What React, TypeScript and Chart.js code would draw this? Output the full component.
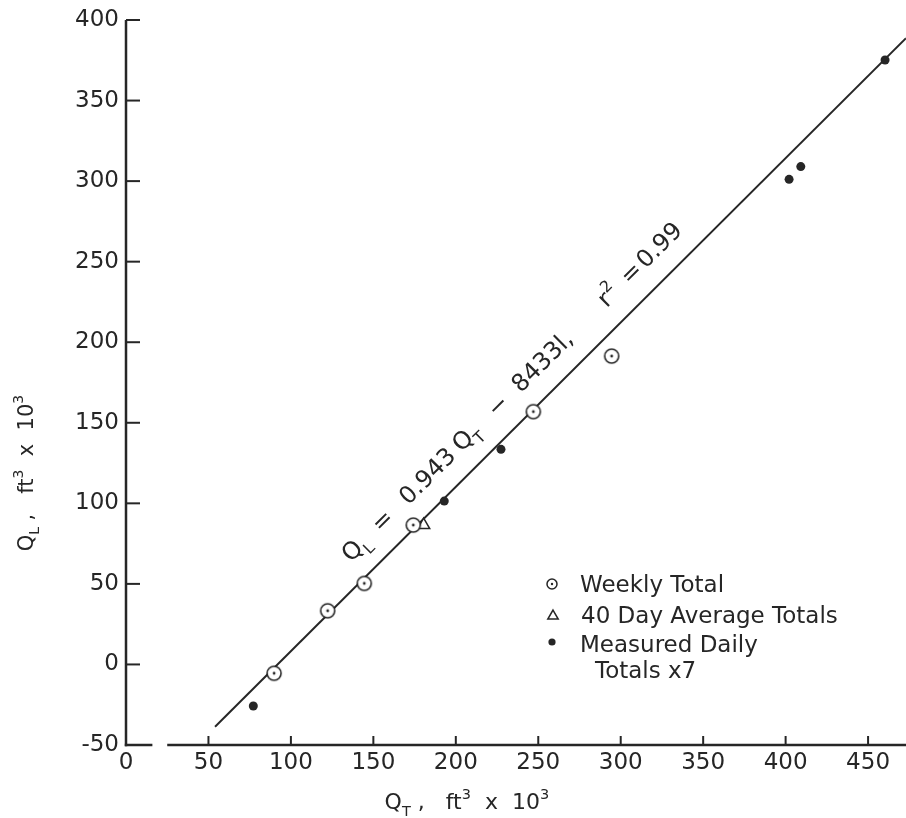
import React, { useEffect, useRef } from "react";
import { Chart, registerables } from "chart.js";

Chart.register(...registerables);

const INK = "#262626";
const FONT = "'DejaVu Sans', 'Liberation Sans', sans-serif";

// ---- data (thousand ft^3) ----
const weeklyX = [89.8, 122.3, 144.5, 174.2, 247.0, 294.5];
const weeklyY = [-5.5, 33.3, 50.3, 86.5, 156.9, 191.4];
const avgX = [180.5];
const avgY = [86.5];
const dailyX = [77.2, 193.0, 227.4, 402.1, 409.2, 460.3];
const dailyY = [-25.8, 101.4, 133.5, 301.1, 309.0, 375.2];
const fitX = [54, 473];
const fitY = [-38.7, 388.7];

const xTicks = [0, 50, 100, 150, 200, 250, 300, 350, 400, 450];
const yTicks = [-50, 0, 50, 100, 150, 200, 250, 300, 350, 400];
const xAxisBreak = [16, 25];

const seriesLabels = ["Weekly Total", "40 Day Average Totals", "Measured Daily", "Totals x7"];

type Part = { t: string; k?: "sub" | "sup"; at?: number };

const eqParts: Part[] = [
  { t: "Q", at: 0 },
  { t: "L", k: "sub" },
  { t: "=", at: 42 },
  { t: "0.943", at: 81 },
  { t: "Q", at: 156 },
  { t: "T", k: "sub" },
  { t: "\u2212", at: 205 },
  { t: "8433l,", at: 240 },
  { t: "r", at: 361 },
  { t: "2", k: "sup" },
  { t: "=", at: 393 },
  { t: "0.99", at: 416 },
];

const yTitleParts: Part[] = [
  { t: "Q" },
  { t: "L", k: "sub" },
  { t: " ,   ft" },
  { t: "3", k: "sup" },
  { t: "  x  10" },
  { t: "3", k: "sup" },
];
const xTitleParts: Part[] = [
  { t: "Q" },
  { t: "T", k: "sub" },
  { t: " ,   ft" },
  { t: "3", k: "sup" },
  { t: "  x  10" },
  { t: "3", k: "sup" },
];

function drawRich(ctx: CanvasRenderingContext2D, parts: Part[], x0: number, y0: number, size: number, measureOnly = false) {
  let x = x0;
  for (const p of parts) {
    if (p.at !== undefined) x = x0 + p.at;
    const s = p.k ? size * 0.66 : size;
    const dy = p.k === "sub" ? size * 0.3 : p.k === "sup" ? -size * 0.45 : 0;
    ctx.font = `${s}px ${FONT}`;
    if (!measureOnly) ctx.fillText(p.t, x, y0 + dy);
    x += ctx.measureText(p.t).width;
  }
  return x - x0;
}

function makeCircleDot(r: number, lw: number, dotR: number) {
  const c = document.createElement("canvas");
  const s = Math.ceil(2 * r + lw + 2);
  c.width = s;
  c.height = s;
  const g = c.getContext("2d")!;
  g.beginPath();
  g.arc(s / 2, s / 2, r, 0, Math.PI * 2);
  g.fillStyle = "#ffffff";
  g.fill();
  g.lineWidth = lw;
  g.strokeStyle = INK;
  g.stroke();
  g.beginPath();
  g.arc(s / 2, s / 2, dotR, 0, Math.PI * 2);
  g.fillStyle = INK;
  g.fill();
  return c;
}

export default function App() {
  const ref = useRef<HTMLCanvasElement>(null);

  useEffect(() => {
    document.body.style.margin = "0";
    const canvas = ref.current!;
    const weeklyImg = makeCircleDot(7, 1.6, 1.4);

    const decor = {
      id: "decor",
      beforeDraw(chart: any) {
        const ctx = chart.ctx;
        ctx.save();
        ctx.fillStyle = "#ffffff";
        ctx.fillRect(0, 0, chart.width, chart.height);
        ctx.restore();
      },
      afterDraw(chart: any) {
        const ctx: CanvasRenderingContext2D = chart.ctx;
        const a = chart.chartArea;
        const xs = chart.scales.x;
        const ys = chart.scales.y;
        ctx.save();
        ctx.strokeStyle = INK;
        ctx.fillStyle = INK;

        // axes
        ctx.lineWidth = 2.5;
        ctx.beginPath();
        ctx.moveTo(a.left, ys.getPixelForValue(yTicks[yTicks.length - 1]));
        ctx.lineTo(a.left, a.bottom + 1.2);
        ctx.stroke();
        const b0 = xs.getPixelForValue(xAxisBreak[0]);
        const b1 = xs.getPixelForValue(xAxisBreak[1]);
        ctx.beginPath();
        ctx.moveTo(a.left - 1.2, a.bottom);
        ctx.lineTo(b0, a.bottom);
        ctx.moveTo(b1, a.bottom);
        ctx.lineTo(a.right, a.bottom);
        ctx.stroke();

        ctx.lineWidth = 2;
        for (const v of yTicks) {
          if (v === yTicks[0]) continue;
          const py = ys.getPixelForValue(v);
          ctx.beginPath();
          ctx.moveTo(a.left, py);
          ctx.lineTo(a.left + 14, py);
          ctx.stroke();
        }
        for (const v of xTicks) {
          if (v === xTicks[0]) continue;
          const px = xs.getPixelForValue(v);
          ctx.beginPath();
          ctx.moveTo(px, a.bottom);
          ctx.lineTo(px, a.bottom - 9);
          ctx.stroke();
        }

        ctx.textBaseline = "alphabetic";
        ctx.textAlign = "left";

        // y title
        {
          const size = 21;
          const w = drawRich(ctx, yTitleParts, 0, 0, size, true);
          const cx = 25;
          const cy = a.top + 0.625 * (a.bottom - a.top);
          ctx.save();
          ctx.translate(cx, cy);
          ctx.rotate(-Math.PI / 2);
          drawRich(ctx, yTitleParts, -w / 2, size * 0.36, size);
          ctx.restore();
        }
        // x title
        {
          const size = 22;
          const w = drawRich(ctx, xTitleParts, 0, 0, size, true);
          const cx = a.left + 0.437 * (a.right - a.left);
          drawRich(ctx, xTitleParts, cx - w / 2, a.bottom + 64, size);
        }

        // equation along fit line
        {
          const p1x = xs.getPixelForValue(fitX[0]);
          const p1y = ys.getPixelForValue(fitY[0]);
          const p2x = xs.getPixelForValue(fitX[1]);
          const p2y = ys.getPixelForValue(fitY[1]);
          const ang = Math.atan2(p2y - p1y, p2x - p1x);
          const ux = Math.cos(ang);
          const uy = Math.sin(ang);
          const ax = p1x + 212 * ux;
          const ay = p1y + 212 * uy;
          ctx.save();
          ctx.translate(ax, ay);
          ctx.rotate(ang);
          drawRich(ctx, eqParts, 0, -20, 24);
          ctx.restore();
        }

        // legend
        {
          const lx = a.left + 426;
          const base = [a.top + 572, a.top + 603, a.top + 632, a.top + 658];
          const size = 23;
          const cap = 8;
          ctx.lineWidth = 1.5;
          ctx.beginPath();
          ctx.arc(lx, base[0] - cap, 5, 0, Math.PI * 2);
          ctx.stroke();
          ctx.beginPath();
          ctx.arc(lx, base[0] - cap, 1.2, 0, Math.PI * 2);
          ctx.fill();
          const tcx = lx + 1;
          const tcy = base[1] - cap;
          ctx.beginPath();
          for (let i = 0; i < 3; i++) {
            const t = -Math.PI / 2 + (i * 2 * Math.PI) / 3;
            const px = tcx + 6 * Math.cos(t);
            const py = tcy + 1 + 6 * Math.sin(t);
            if (i === 0) ctx.moveTo(px, py);
            else ctx.lineTo(px, py);
          }
          ctx.closePath();
          ctx.stroke();
          ctx.beginPath();
          ctx.arc(lx, base[2] - cap - 2, 3.6, 0, Math.PI * 2);
          ctx.fill();

          ctx.font = `${size}px ${FONT}`;
          ctx.fillText(seriesLabels[0], lx + 28, base[0]);
          ctx.fillText(seriesLabels[1], lx + 29, base[1]);
          ctx.fillText(seriesLabels[2], lx + 28, base[2]);
          ctx.fillText(seriesLabels[3], lx + 43, base[3]);
        }
        ctx.restore();
      },
    };

    const tickFont = { family: FONT, size: 23 };

    const chart = new Chart(canvas, {
      type: "scatter",
      data: {
        datasets: [
          {
            label: seriesLabels[0],
            data: weeklyX.map((x, i) => ({ x, y: weeklyY[i] })),
            pointStyle: weeklyImg as any,
            pointRadius: 7,
          },
          {
            label: seriesLabels[1],
            data: avgX.map((x, i) => ({ x, y: avgY[i] })),
            pointStyle: "triangle",
            pointRadius: 7,
            backgroundColor: "#ffffff",
            borderColor: INK,
            borderWidth: 1.5,
          },
          {
            label: seriesLabels[2] + " " + seriesLabels[3],
            data: dailyX.map((x, i) => ({ x, y: dailyY[i] })),
            pointStyle: "circle",
            pointRadius: 4.5,
            backgroundColor: INK,
            borderColor: INK,
            borderWidth: 0,
          },
          {
            label: "fit",
            data: fitX.map((x, i) => ({ x, y: fitY[i] })),
            showLine: true,
            pointRadius: 0,
            borderColor: INK,
            borderWidth: 2,
            fill: false,
          },
        ] as any,
      },
      options: {
        animation: false,
        responsive: false,
        events: [],
        layout: { autoPadding: false, padding: { top: 20, right: 0, left: 0, bottom: 0 } },
        plugins: {
          legend: { display: false },
          tooltip: { enabled: false },
        },
        scales: {
          x: {
            type: "linear",
            position: "bottom",
            min: 0,
            max: 473,
            afterFit: (s: any) => {
              s.height = 73;
              s.paddingLeft = 0;
              s.paddingRight = 0;
            },
            grid: { display: false, drawTicks: false },
            border: { display: false },
            ticks: {
              stepSize: 50,
              includeBounds: false,
              padding: 4,
              font: tickFont,
              color: INK,
              maxRotation: 0,
              autoSkip: false,
            },
          },
          y: {
            type: "linear",
            min: -50,
            max: 400,
            afterFit: (s: any) => {
              s.width = 126;
              s.paddingTop = 0;
              s.paddingBottom = 0;
            },
            grid: { display: false, drawTicks: false },
            border: { display: false },
            ticks: {
              stepSize: 50,
              includeBounds: false,
              padding: 7,
              font: tickFont,
              color: INK,
              autoSkip: false,
            },
          },
        },
      } as any,
      plugins: [decor],
    });

    return () => chart.destroy();
  }, []);

  return (
    <div style={{ width: 906, height: 818 }}>
      <canvas ref={ref} width={906} height={818} style={{ display: "block" }} />
    </div>
  );
}
